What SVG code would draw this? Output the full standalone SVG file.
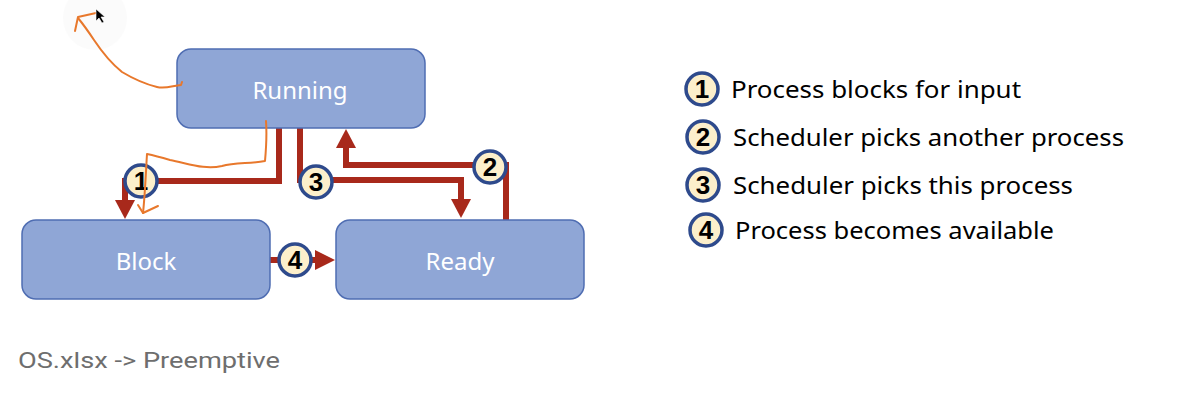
<svg xmlns="http://www.w3.org/2000/svg" width="1180" height="406" viewBox="0 0 1180 406">
<style>
.node{fill:#8FA6D6;stroke:#4F6DB2;stroke-width:1.5}
.nl{font-family:"Noto Sans","Liberation Sans",sans-serif;font-size:24px;fill:#ffffff;text-anchor:middle}
.conn{fill:none;stroke:#A8291B;stroke-width:6}
.head{fill:#A8291B}
.badge{fill:#FCEFCB;stroke:#2E4A8C;stroke-width:3.5}
.bn{font-family:"Liberation Sans",sans-serif;font-size:26px;font-weight:bold;fill:#000;text-anchor:middle}
.lg{font-family:"Noto Sans","Liberation Sans",sans-serif;font-size:24px;fill:#000}
.ink{fill:none;stroke:#E8782C;stroke-width:2;stroke-linecap:round;stroke-linejoin:round}
</style>
<rect width="1180" height="406" fill="#ffffff"/>
<circle cx="95" cy="18" r="32" fill="#f7f7f7" opacity="0.5"/>
<g id="connectors">
<path class="conn" d="M279,128 V181 H125 V202"/>
<polygon class="head" points="115,200 135,200 125,219"/>
<path class="conn" d="M300,128 V180 H461 V201"/>
<polygon class="head" points="451,199 471,199 461,218"/>
<path class="conn" d="M506,220 V165 H346 V146"/>
<polygon class="head" points="336,148 356,148 346,129"/>
<path class="conn" d="M270,260 H318"/>
<polygon class="head" points="315,250 315,270 335,260"/>
</g>
<g id="running"><rect class="node" x="177" y="49" width="248" height="79" rx="14"/><text class="nl" x="300" y="99">Running</text></g>
<g id="block"><rect class="node" x="22" y="220" width="248" height="79" rx="14"/><text class="nl" x="146" y="270">Block</text></g>
<g id="ready"><rect class="node" x="336" y="220" width="248" height="79" rx="14"/><text class="nl" x="460" y="270">Ready</text></g>
<g id="badge1"><circle class="badge" cx="141" cy="181" r="16"/><text class="bn" x="141" y="190">1</text></g>
<g id="badge3"><circle class="badge" cx="316" cy="182" r="16"/><text class="bn" x="316" y="191">3</text></g>
<g id="badge2"><circle class="badge" cx="490" cy="167" r="16"/><text class="bn" x="490" y="176">2</text></g>
<g id="badge4"><circle class="badge" cx="295" cy="260" r="16"/><text class="bn" x="295" y="269">4</text></g>
<g id="legend">
<circle class="badge" cx="702" cy="89" r="16"/><text class="bn" x="702" y="98">1</text>
<text class="lg" x="731" y="98" textLength="290" lengthAdjust="spacingAndGlyphs">Process blocks for input</text>
<circle class="badge" cx="703" cy="137" r="16"/><text class="bn" x="703" y="146">2</text>
<text class="lg" x="733" y="146" textLength="391" lengthAdjust="spacingAndGlyphs">Scheduler picks another process</text>
<circle class="badge" cx="703" cy="185" r="16"/><text class="bn" x="703" y="194">3</text>
<text class="lg" x="733" y="194" textLength="340" lengthAdjust="spacingAndGlyphs">Scheduler picks this process</text>
<circle class="badge" cx="706" cy="230" r="16"/><text class="bn" x="706" y="239">4</text>
<text class="lg" x="735" y="239" textLength="319" lengthAdjust="spacingAndGlyphs">Process becomes available</text>
</g>
<text x="18" y="368" font-family="Roboto,'Liberation Sans',sans-serif" font-size="22" fill="#6E6E6E" textLength="262" lengthAdjust="spacingAndGlyphs">OS.xlsx -&gt; Preemptive</text>
<g id="annotations">
<path class="ink" d="M182,82 L181,85 C172,86 165,89 157,87 C145,84 132,78 122,72 C112,64 102,52 94,40 C88,31 83,24 78,18"/>
<path class="ink" d="M75,31 L78,17 L96,13"/>
<path class="ink" d="M266,121 C267,135 266,150 265,161 C250,164 235,162 222,166 C205,170 190,164 170,160 C160,157 152,155 147,154 C146,170 145,195 143,213"/>
<path class="ink" d="M138,205 L143,213 L158,206"/>
<polygon points="96,9 96,21 99,18 102,23 104,22 101,17 105,17" fill="#000" stroke="#fff" stroke-width="0.6"/>
</g>
</svg>
